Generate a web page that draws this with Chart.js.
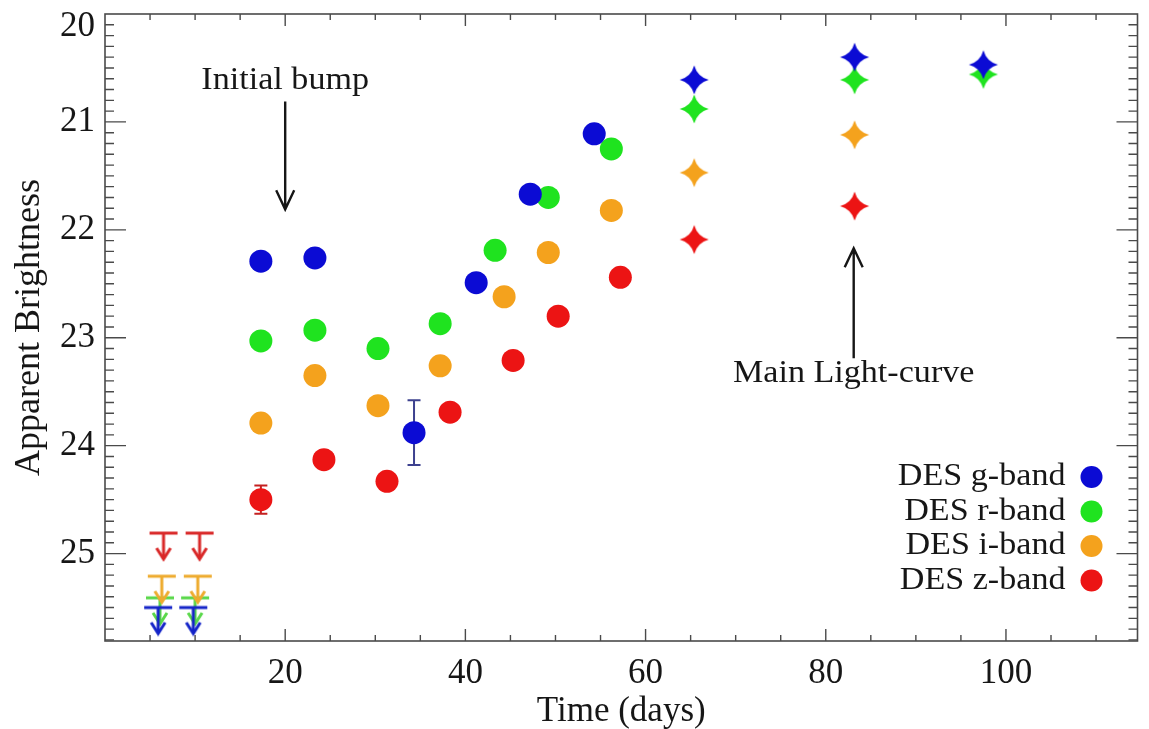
<!DOCTYPE html>
<html>
<head>
<meta charset="utf-8">
<script src="https://cdn.jsdelivr.net/npm/chart.js@4.4.1/dist/chart.umd.min.js"></script>
<style>
  html,body{margin:0;padding:0;background:#fff;}
  #wrap{width:1149px;height:729px;position:relative;}
</style>
</head>
<body>
<div id="wrap"><canvas id="lc"></canvas></div>
<script>
// ===== 讀圖得到的數值 =====
const bandNames   = ['DES g-band','DES r-band','DES i-band','DES z-band'];
const bandColors  = ['#0b0bd4','#1fe31f','#f4a21d','#ec1414'];
const limitColors = ['#1424c8','#5ad84a','#eeab2e','#d92828'];

// 圓點（早期偵測）
const gDays = [17.3, 23.3, 34.3, 41.2, 47.2, 54.3];
const gMag  = [22.29, 22.26, 23.88, 22.49, 21.67, 21.11];
const gErr  = [0, 0, 0.30, 0, 0, 0];
const rDays = [17.3, 23.3, 30.3, 37.2, 43.3, 49.2, 56.2];
const rMag  = [23.03, 22.93, 23.10, 22.87, 22.19, 21.70, 21.25];
const iDays = [17.3, 23.3, 30.3, 37.2, 44.3, 49.2, 56.2];
const iMag  = [23.79, 23.35, 23.63, 23.26, 22.62, 22.21, 21.82];
const zDays = [17.3, 24.3, 31.3, 38.3, 45.3, 50.3, 57.2];
const zMag  = [24.50, 24.13, 24.33, 23.69, 23.21, 22.80, 22.44];
const zErr  = [0.13, 0, 0, 0, 0, 0, 0];

// 星號（主光變曲線）
const gStarDays = [65.4, 83.2, 97.5];
const gStarMag  = [20.61, 20.40, 20.47];
const rStarDays = [65.4, 83.2, 97.5];
const rStarMag  = [20.88, 20.61, 20.56];
const iStarDays = [65.4, 83.2];
const iStarMag  = [21.47, 21.12];
const zStarDays = [65.4, 83.2];
const zStarMag  = [22.09, 21.78];

// 上限（箭頭）
const gLimDays = [5.9, 9.8];
const gLimMag  = [25.50, 25.50];
const rLimDays = [6.1, 10.0];
const rLimMag  = [25.41, 25.41];
const iLimDays = [6.3, 10.3];
const iLimMag  = [25.21, 25.21];
const zLimDays = [6.5, 10.5];
const zLimMag  = [24.81, 24.81];

// 軸刻度
const xTicks = [20, 40, 60, 80, 100];
const yTicks = [20, 21, 22, 23, 24, 25];

const FONT = 'Liberation Serif';
const INK = '#161616';

// ===== 標記圖樣 =====
function starImage(color){
  const c = document.createElement('canvas');
  c.width = 32; c.height = 32;
  const g = c.getContext('2d');
  const R = 14.5, r = 5.2, cx = 16, cy = 16;
  g.fillStyle = color;
  g.beginPath();
  g.moveTo(cx, cy - R);
  g.quadraticCurveTo(cx + r * 0.6, cy - r * 0.6, cx + R, cy);
  g.quadraticCurveTo(cx + r * 0.6, cy + r * 0.6, cx, cy + R);
  g.quadraticCurveTo(cx - r * 0.6, cy + r * 0.6, cx - R, cy);
  g.quadraticCurveTo(cx - r * 0.6, cy - r * 0.6, cx, cy - R);
  g.closePath();
  g.fill();
  return c;
}

function limitImage(color){
  const c = document.createElement('canvas');
  c.width = 32; c.height = 58;
  const g = c.getContext('2d');
  const cx = 16, bar = 29, tip = 56;
  g.strokeStyle = color;
  g.lineWidth = 3;
  g.lineCap = 'butt';
  g.beginPath();
  g.moveTo(2, bar); g.lineTo(30, bar);
  g.moveTo(cx, bar); g.lineTo(cx, tip - 1);
  g.stroke();
  g.beginPath();
  g.moveTo(cx - 7, tip - 12); g.lineTo(cx, tip - 1); g.lineTo(cx + 7, tip - 12);
  g.stroke();
  return c;
}

const pts = (xs, ys) => xs.map((x, i) => ({x, y: ys[i]}));

const circleSets = [[gDays,gMag],[rDays,rMag],[iDays,iMag],[zDays,zMag]];
const starSets   = [[gStarDays,gStarMag],[rStarDays,rStarMag],[iStarDays,iStarMag],[zStarDays,zStarMag]];
const limitSets  = [[gLimDays,gLimMag],[rLimDays,rLimMag],[iLimDays,iLimMag],[zLimDays,zLimMag]];
const errSets    = [gErr, null, null, zErr];
const errColors  = ['#3d418f', null, null, '#c42020'];
const drawRank   = [0, 2, 1, 3]; // g 最上層，i 蓋在 r 上

const datasets = [];
bandNames.forEach((name, b) => {
  datasets.push({
    label: name, kind: 'circle', band: b,
    data: pts(circleSets[b][0], circleSets[b][1]),
    pointStyle: 'circle', pointRadius: 11.5,
    backgroundColor: bandColors[b], borderWidth: 0,
    order: drawRank[b]
  });
  datasets.push({
    label: name + ' star', kind: 'star', band: b,
    data: pts(starSets[b][0], starSets[b][1]),
    pointStyle: starImage(bandColors[b]),
    order: drawRank[b]
  });
  datasets.push({
    label: name + ' limit', kind: 'limit', band: b,
    data: pts(limitSets[b][0], limitSets[b][1]),
    pointStyle: limitImage(limitColors[b]),
    order: drawRank[b]
  });
});

// ===== 註解文字與箭頭（以資料座標定位） =====
const notes = [
  {text: 'Initial bump', x: 20, textY: 20.62, from: 20.81, to: 21.81},
  {text: 'Main Light-curve', x: 83.1, textY: 23.33, from: 23.19, to: 22.17}
];

// 誤差棒
const errorBars = {
  id: 'errorBars',
  beforeDatasetsDraw(chart){
    const {ctx, scales:{x, y}} = chart;
    ctx.save();
    ctx.lineWidth = 2;
    chart.data.datasets.forEach(ds => {
      if(ds.kind !== 'circle') return;
      const errs = errSets[ds.band];
      if(!errs) return;
      ctx.strokeStyle = errColors[ds.band];
      ds.data.forEach((p, i) => {
        const e = errs[i];
        if(!e) return;
        const px = x.getPixelForValue(p.x);
        const y1 = y.getPixelForValue(p.y - e), y2 = y.getPixelForValue(p.y + e);
        ctx.beginPath();
        ctx.moveTo(px, y1); ctx.lineTo(px, y2);
        ctx.moveTo(px - 6.5, y1); ctx.lineTo(px + 6.5, y1);
        ctx.moveTo(px - 6.5, y2); ctx.lineTo(px + 6.5, y2);
        ctx.stroke();
      });
    });
    ctx.restore();
  }
};

// 外框與內向刻度
const frame = {
  id: 'frame',
  afterDatasetsDraw(chart){
    const {ctx, chartArea:a, scales:{x, y}} = chart;
    ctx.save();
    ctx.strokeStyle = '#4a4a4a';
    ctx.lineWidth = 1.6;
    ctx.strokeRect(a.left, a.top, a.right - a.left, a.bottom - a.top);
    ctx.lineWidth = 1.4;
    ctx.beginPath();
    for(let v = 5; v < x.max; v += 5){
      const px = x.getPixelForValue(v);
      const len = v % 20 === 0 ? 12 : 6;
      ctx.moveTo(px, a.bottom); ctx.lineTo(px, a.bottom - len);
      ctx.moveTo(px, a.top); ctx.lineTo(px, a.top + len);
    }
    for(let k = 1; k <= 58; k++){
      const v = 20 + k / 10;
      if(v > y.max) break;
      const py = y.getPixelForValue(v);
      const major = k % 10 === 0;
      const len = major ? 21 : 9;
      ctx.moveTo(a.left, py); ctx.lineTo(a.left + len, py);
      ctx.moveTo(a.right, py); ctx.lineTo(a.right - len, py);
    }
    ctx.stroke();
    ctx.restore();
  }
};

// 註解與圖例
const overlay = {
  id: 'overlay',
  afterDraw(chart){
    const {ctx, chartArea:a, scales:{x, y}} = chart;
    ctx.save();
    ctx.fillStyle = INK;
    ctx.strokeStyle = INK;
    ctx.font = `31px "${FONT}"`;
    ctx.textBaseline = 'middle';
    notes.forEach(n => {
      const px = x.getPixelForValue(n.x);
      ctx.save();
      ctx.translate(px, y.getPixelForValue(n.textY));
      ctx.scale(1.1, 1);
      ctx.textAlign = 'center';
      ctx.fillText(n.text, 0, 0);
      ctx.restore();
      const y1 = y.getPixelForValue(n.from), y2 = y.getPixelForValue(n.to);
      const dir = y2 > y1 ? 1 : -1;
      ctx.lineWidth = 2.4;
      ctx.beginPath();
      ctx.moveTo(px, y1); ctx.lineTo(px, y2);
      ctx.moveTo(px - 9, y2 - dir * 19); ctx.lineTo(px, y2); ctx.lineTo(px + 9, y2 - dir * 19);
      ctx.stroke();
    });
    // 圖例：文字在左、圓點在右
    bandNames.forEach((name, b) => {
      const ly = a.bottom - 164 + b * 34.5;
      ctx.save();
      ctx.translate(a.right - 72, ly);
      ctx.scale(1.1, 1);
      ctx.textAlign = 'right';
      ctx.fillStyle = INK;
      ctx.fillText(name, 0, 0);
      ctx.restore();
      ctx.fillStyle = bandColors[b];
      ctx.beginPath();
      ctx.arc(a.right - 46, ly, 11, 0, Math.PI * 2);
      ctx.fill();
    });
    ctx.restore();
  }
};

new Chart(document.getElementById('lc'), {
  type: 'scatter',
  data: { datasets },
  options: {
    responsive: true,
    maintainAspectRatio: false,
    animation: false,
    layout: { padding: { left: 0, top: 14, right: 2, bottom: 0 } },
    plugins: { legend: { display: false }, tooltip: { enabled: false } },
    scales: {
      x: {
        type: 'linear', min: 0, max: 114.6,
        afterBuildTicks: s => { s.ticks = xTicks.map(v => ({value: v})); },
        afterFit: s => { s.height = 88; s.paddingLeft = 0; s.paddingRight = 0; },
        grid: { display: false, drawTicks: false },
        border: { display: false },
        ticks: { color: INK, font: { family: FONT, size: 35 }, padding: 12, maxRotation: 0, autoSkip: false },
        title: { display: true, text: 'Time (days)', color: INK,
                 font: { family: FONT, size: 35, lineHeight: 1 }, padding: { top: 0, bottom: 0 } }
      },
      y: {
        type: 'linear', min: 20, max: 25.81, reverse: true,
        afterBuildTicks: s => { s.ticks = yTicks.map(v => ({value: v})); },
        afterFit: s => { s.width = 105; s.paddingTop = 0; s.paddingBottom = 0; },
        grid: { display: false, drawTicks: false },
        border: { display: false },
        ticks: {
          color: INK, font: { family: FONT, size: 35, lineHeight: 0.72 }, padding: 10,
          // 最上面的 20 往下挪，避免被切掉
          callback: v => v === yTicks[0] ? ['', String(v)] : String(v)
        },
        title: { display: true, text: 'Apparent Brightness', color: INK,
                 font: { family: FONT, size: 36, lineHeight: 1 }, padding: { top: 12, bottom: 0 } }
      }
    }
  },
  plugins: [errorBars, frame, overlay]
});
</script>
</body>
</html>
